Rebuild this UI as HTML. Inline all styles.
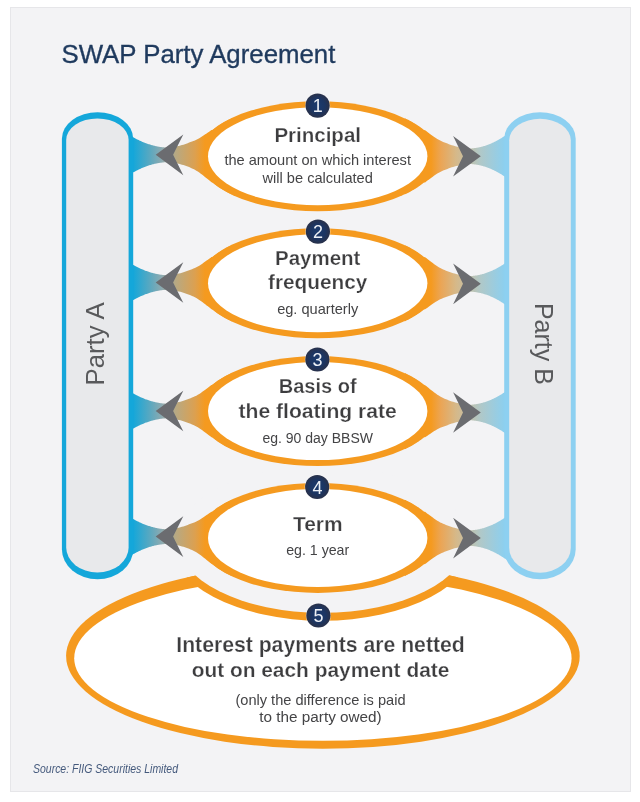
<!DOCTYPE html>
<html><head><meta charset="utf-8"><style>
html,body{margin:0;padding:0;background:#fff;width:640px;height:802px;overflow:hidden}
svg{display:block;font-family:"Liberation Sans",sans-serif;will-change:transform}
</style></head><body>
<svg width="640" height="802" viewBox="0 0 640 802">
<defs>
<linearGradient id="gL" gradientUnits="userSpaceOnUse" x1="133" y1="0" x2="205" y2="0">
<stop offset="0" stop-color="#14a7da"/><stop offset="0.236" stop-color="#5aa8c0"/><stop offset="0.403" stop-color="#8eaab0"/><stop offset="0.597" stop-color="#b8a982"/><stop offset="0.861" stop-color="#dca050"/><stop offset="1" stop-color="#f59a1f"/></linearGradient>
<linearGradient id="gR" gradientUnits="userSpaceOnUse" x1="431" y1="0" x2="504" y2="0">
<stop offset="0" stop-color="#f59a1f"/><stop offset="0.135" stop-color="#eba555"/><stop offset="0.338" stop-color="#d6b888"/><stop offset="0.676" stop-color="#b0c8c8"/><stop offset="1" stop-color="#8dcfee"/></linearGradient>
<radialGradient id="cg" cx="0.5" cy="0.5" r="0.5"><stop offset="0" stop-color="#1b3b6e"/><stop offset="0.6" stop-color="#1c3562"/><stop offset="1" stop-color="#29314a"/></radialGradient>
<clipPath id="c5"><ellipse cx="322.9" cy="656" rx="256.8" ry="92.7"/></clipPath>
</defs>
<rect x="10.5" y="7.5" width="620" height="784" fill="#f3f3f5" stroke="#e6e6e9" stroke-width="1"/>
<ellipse cx="322.9" cy="656" rx="256.8" ry="92.7" fill="#f59a1f"/>
<ellipse cx="322.9" cy="658.2" rx="248.7" ry="82.6" fill="#fff"/>
<g clip-path="url(#c5)"><ellipse cx="322.2" cy="539.5" rx="153.5" ry="81.3" fill="#f59a1f"/></g>
<ellipse cx="322.2" cy="539.5" rx="145.5" ry="73.3" fill="#f3f3f5"/>
<ellipse cx="317.7" cy="156.3" rx="120" ry="55" fill="#f59a1f"/>
<ellipse cx="317.7" cy="283.2" rx="120" ry="55" fill="#f59a1f"/>
<ellipse cx="317.7" cy="411.1" rx="120" ry="55" fill="#f59a1f"/>
<ellipse cx="317.7" cy="537.9" rx="120" ry="55" fill="#f59a1f"/>
<path d="M122.00,129.98 L122.44,130.29 L123.04,130.72 L123.75,131.23 L124.52,131.77 L125.29,132.31 L126.00,132.80 L126.67,133.25 L127.33,133.69 L128.00,134.12 L128.67,134.55 L129.33,134.97 L130.00,135.38 L130.67,135.78 L131.33,136.18 L132.00,136.57 L132.67,136.96 L133.33,137.34 L134.00,137.71 L134.67,138.07 L135.33,138.43 L136.00,138.78 L136.67,139.13 L137.33,139.47 L138.00,139.80 L138.67,140.12 L139.33,140.44 L140.00,140.75 L140.67,141.05 L141.33,141.35 L142.00,141.64 L142.67,141.92 L143.33,142.20 L144.00,142.47 L144.67,142.73 L145.33,142.98 L146.00,143.23 L146.67,143.47 L147.33,143.71 L148.00,143.94 L148.67,144.16 L149.33,144.37 L150.00,144.58 L150.67,144.78 L151.33,144.98 L152.00,145.16 L152.67,145.35 L153.33,145.52 L154.00,145.69 L154.67,145.85 L155.33,146.00 L156.00,146.15 L156.67,146.29 L157.33,146.42 L158.00,146.55 L158.67,146.66 L159.33,146.78 L160.00,146.88 L160.67,146.98 L161.33,147.07 L162.00,147.16 L162.67,147.24 L163.33,147.31 L164.00,147.37 L164.67,147.43 L165.33,147.48 L166.00,147.53 L166.59,147.59 L167.10,147.67 L167.60,147.75 L168.19,147.79 L168.96,147.76 L170.00,147.65 L171.38,147.43 L173.06,147.13 L174.91,146.76 L176.82,146.36 L178.69,145.93 L180.40,145.50 L181.95,145.07 L183.43,144.63 L184.86,144.16 L186.26,143.67 L187.67,143.15 L189.10,142.60 L190.55,142.06 L192.00,141.57 L193.44,141.04 L194.89,140.47 L196.34,139.83 L197.80,139.12 L199.28,138.30 L200.79,137.37 L202.31,136.37 L203.80,135.36 L205.24,134.37 L206.60,133.45 L207.90,132.58 L209.16,131.71 L210.37,130.87 L211.53,130.07 L212.60,130.05 L213.60,129.24 L214.47,128.56 L215.20,128.00 L215.86,127.51 L216.51,127.04 L217.20,126.54 L218.00,125.99 L218.88,125.39 L219.81,124.79 L220.78,124.17 L221.79,123.54 L222.87,122.90 L224.00,122.24 L225.31,121.50 L226.81,120.69 L228.38,119.87 L229.85,119.13 L231.11,118.52 L232.00,118.10 L232.00,194.50 L231.11,194.08 L229.85,193.47 L228.38,192.73 L226.81,191.91 L225.31,191.10 L224.00,190.36 L222.87,189.70 L221.79,189.06 L220.78,188.43 L219.81,187.81 L218.88,187.21 L218.00,186.61 L217.20,186.06 L216.51,185.56 L215.86,185.09 L215.20,184.60 L214.47,184.04 L213.60,183.36 L212.60,182.55 L211.53,182.23 L210.37,181.29 L209.16,180.30 L207.90,179.28 L206.60,178.25 L205.24,177.17 L203.80,176.01 L202.31,174.82 L200.79,173.64 L199.28,172.53 L197.80,171.52 L196.34,170.63 L194.89,169.82 L193.44,169.08 L192.00,168.38 L190.55,167.70 L189.10,167.10 L187.67,166.55 L186.26,166.03 L184.86,165.54 L183.43,165.07 L181.95,164.63 L180.40,164.20 L178.69,163.77 L176.82,163.34 L174.91,162.94 L173.06,162.57 L171.38,162.27 L170.00,162.05 L168.96,161.94 L168.19,161.91 L167.60,161.95 L167.10,162.03 L166.59,162.11 L166.00,162.17 L165.33,162.22 L164.67,162.27 L164.00,162.33 L163.33,162.39 L162.67,162.46 L162.00,162.54 L161.33,162.63 L160.67,162.72 L160.00,162.82 L159.33,162.92 L158.67,163.04 L158.00,163.15 L157.33,163.28 L156.67,163.41 L156.00,163.55 L155.33,163.70 L154.67,163.85 L154.00,164.01 L153.33,164.18 L152.67,164.35 L152.00,164.54 L151.33,164.72 L150.67,164.92 L150.00,165.12 L149.33,165.33 L148.67,165.54 L148.00,165.76 L147.33,165.99 L146.67,166.23 L146.00,166.47 L145.33,166.72 L144.67,166.97 L144.00,167.23 L143.33,167.50 L142.67,167.78 L142.00,168.06 L141.33,168.35 L140.67,168.65 L140.00,168.95 L139.33,169.26 L138.67,169.58 L138.00,169.90 L137.33,170.23 L136.67,170.57 L136.00,170.92 L135.33,171.27 L134.67,171.63 L134.00,171.99 L133.33,172.36 L132.67,172.74 L132.00,173.13 L131.33,173.52 L130.67,173.92 L130.00,174.32 L129.33,174.73 L128.67,175.15 L128.00,175.58 L127.33,176.01 L126.67,176.45 L126.00,176.90 L125.29,177.39 L124.52,177.93 L123.75,178.47 L123.04,178.98 L122.44,179.41 L122.00,179.72Z" fill="url(#gL)"/>
<path d="M514.60,128.19 L514.16,128.56 L513.56,129.07 L512.85,129.67 L512.08,130.31 L511.31,130.95 L510.60,131.52 L509.93,132.05 L509.27,132.57 L508.60,133.08 L507.93,133.58 L507.27,134.07 L506.60,134.55 L505.93,135.03 L505.27,135.50 L504.60,135.96 L503.93,136.41 L503.27,136.85 L502.60,137.29 L501.93,137.72 L501.27,138.13 L500.60,138.54 L499.93,138.95 L499.27,139.34 L498.60,139.73 L497.93,140.10 L497.27,140.47 L496.60,140.83 L495.93,141.18 L495.27,141.53 L494.60,141.86 L493.93,142.19 L493.27,142.51 L492.60,142.82 L491.93,143.12 L491.27,143.42 L490.60,143.71 L489.93,143.98 L489.27,144.25 L488.60,144.51 L487.93,144.77 L487.27,145.01 L486.60,145.25 L485.93,145.48 L485.27,145.70 L484.60,145.91 L483.93,146.11 L483.27,146.31 L482.60,146.49 L481.93,146.67 L481.27,146.84 L480.60,147.01 L479.93,147.16 L479.27,147.31 L478.60,147.44 L477.93,147.57 L477.27,147.69 L476.60,147.80 L475.93,147.91 L475.27,148.01 L474.60,148.10 L473.93,148.18 L473.27,148.26 L472.60,148.33 L471.93,148.39 L471.27,148.44 L470.60,148.49 L470.01,148.55 L469.50,148.64 L469.00,148.72 L468.41,148.76 L467.64,148.74 L466.60,148.62 L465.22,148.39 L463.54,148.07 L461.69,147.68 L459.78,147.28 L457.91,146.86 L456.20,146.44 L454.65,146.02 L453.17,145.59 L451.74,145.13 L450.34,144.65 L448.93,144.15 L447.50,143.61 L446.05,143.06 L444.60,142.50 L443.16,141.91 L441.71,141.29 L440.26,140.60 L438.80,139.83 L437.32,138.96 L435.81,137.98 L434.29,136.95 L432.80,135.91 L431.36,134.88 L430.00,133.88 L428.70,132.93 L427.44,131.99 L426.23,131.08 L425.07,130.21 L424.00,130.05 L423.00,129.24 L422.13,128.56 L421.40,128.00 L420.74,127.51 L420.09,127.04 L419.40,126.54 L418.60,125.99 L417.72,125.39 L416.79,124.79 L415.83,124.17 L414.81,123.54 L413.73,122.90 L412.60,122.24 L411.29,121.50 L409.79,120.69 L408.23,119.87 L406.75,119.13 L405.49,118.52 L404.60,118.10 L404.60,194.50 L405.49,194.08 L406.75,193.47 L408.23,192.73 L409.79,191.91 L411.29,191.10 L412.60,190.36 L413.73,189.70 L414.81,189.06 L415.83,188.43 L416.79,187.81 L417.72,187.21 L418.60,186.61 L419.40,186.06 L420.09,185.56 L420.74,185.09 L421.40,184.60 L422.13,184.04 L423.00,183.36 L424.00,182.55 L425.07,182.38 L426.23,181.50 L427.44,180.59 L428.70,179.64 L430.00,178.68 L431.36,177.68 L432.80,176.65 L434.29,175.60 L435.81,174.56 L437.32,173.58 L438.80,172.70 L440.26,171.93 L441.71,171.23 L443.16,170.60 L444.60,170.01 L446.05,169.44 L447.50,168.89 L448.93,168.35 L450.34,167.85 L451.74,167.37 L453.17,166.91 L454.65,166.48 L456.20,166.06 L457.91,165.64 L459.78,165.22 L461.69,164.82 L463.54,164.43 L465.22,164.11 L466.60,163.88 L467.64,163.76 L468.41,163.74 L469.00,163.78 L469.50,163.86 L470.01,163.95 L470.60,164.01 L471.27,164.06 L471.93,164.11 L472.60,164.17 L473.27,164.24 L473.93,164.32 L474.60,164.40 L475.27,164.49 L475.93,164.59 L476.60,164.70 L477.27,164.81 L477.93,164.93 L478.60,165.06 L479.27,165.19 L479.93,165.34 L480.60,165.49 L481.27,165.66 L481.93,165.83 L482.60,166.01 L483.27,166.19 L483.93,166.39 L484.60,166.59 L485.27,166.80 L485.93,167.02 L486.60,167.25 L487.27,167.49 L487.93,167.73 L488.60,167.99 L489.27,168.25 L489.93,168.52 L490.60,168.79 L491.27,169.08 L491.93,169.38 L492.60,169.68 L493.27,169.99 L493.93,170.31 L494.60,170.64 L495.27,170.97 L495.93,171.32 L496.60,171.67 L497.27,172.03 L497.93,172.40 L498.60,172.77 L499.27,173.16 L499.93,173.55 L500.60,173.96 L501.27,174.37 L501.93,174.78 L502.60,175.21 L503.27,175.65 L503.93,176.09 L504.60,176.54 L505.27,177.00 L505.93,177.47 L506.60,177.95 L507.27,178.43 L507.93,178.92 L508.60,179.42 L509.27,179.93 L509.93,180.45 L510.60,180.98 L511.31,181.55 L512.08,182.19 L512.85,182.83 L513.56,183.43 L514.16,183.94 L514.60,184.31Z" fill="url(#gR)"/>
<path d="M122.00,257.63 L122.44,257.94 L123.04,258.37 L123.75,258.88 L124.52,259.42 L125.29,259.96 L126.00,260.45 L126.67,260.90 L127.33,261.34 L128.00,261.77 L128.67,262.20 L129.33,262.62 L130.00,263.03 L130.67,263.43 L131.33,263.83 L132.00,264.22 L132.67,264.61 L133.33,264.99 L134.00,265.36 L134.67,265.72 L135.33,266.08 L136.00,266.43 L136.67,266.78 L137.33,267.12 L138.00,267.45 L138.67,267.77 L139.33,268.09 L140.00,268.40 L140.67,268.70 L141.33,269.00 L142.00,269.29 L142.67,269.57 L143.33,269.85 L144.00,270.12 L144.67,270.38 L145.33,270.63 L146.00,270.88 L146.67,271.12 L147.33,271.36 L148.00,271.59 L148.67,271.81 L149.33,272.02 L150.00,272.23 L150.67,272.43 L151.33,272.63 L152.00,272.81 L152.67,273.00 L153.33,273.17 L154.00,273.34 L154.67,273.50 L155.33,273.65 L156.00,273.80 L156.67,273.94 L157.33,274.07 L158.00,274.20 L158.67,274.31 L159.33,274.43 L160.00,274.53 L160.67,274.63 L161.33,274.72 L162.00,274.81 L162.67,274.89 L163.33,274.96 L164.00,275.02 L164.67,275.08 L165.33,275.13 L166.00,275.18 L166.59,275.24 L167.10,275.32 L167.60,275.40 L168.19,275.44 L168.96,275.41 L170.00,275.30 L171.38,275.08 L173.06,274.78 L174.91,274.41 L176.82,274.01 L178.69,273.58 L180.40,273.15 L181.95,272.72 L183.43,272.28 L184.86,271.81 L186.26,271.32 L187.67,270.80 L189.10,270.25 L190.55,269.69 L192.00,269.15 L193.44,268.58 L194.89,267.96 L196.34,267.29 L197.80,266.53 L199.28,265.66 L200.79,264.68 L202.31,263.64 L203.80,262.58 L205.24,261.55 L206.60,260.58 L207.90,259.67 L209.16,258.76 L210.37,257.88 L211.53,257.05 L212.60,256.95 L213.60,256.14 L214.47,255.46 L215.20,254.90 L215.86,254.41 L216.51,253.94 L217.20,253.44 L218.00,252.89 L218.88,252.29 L219.81,251.69 L220.78,251.07 L221.79,250.44 L222.87,249.80 L224.00,249.14 L225.31,248.40 L226.81,247.59 L228.38,246.77 L229.85,246.03 L231.11,245.42 L232.00,245.00 L232.00,321.40 L231.11,320.98 L229.85,320.37 L228.38,319.63 L226.81,318.81 L225.31,318.00 L224.00,317.26 L222.87,316.60 L221.79,315.96 L220.78,315.33 L219.81,314.71 L218.88,314.11 L218.00,313.51 L217.20,312.96 L216.51,312.46 L215.86,311.99 L215.20,311.50 L214.47,310.94 L213.60,310.26 L212.60,309.45 L211.53,309.21 L210.37,308.31 L209.16,307.36 L207.90,306.37 L206.60,305.38 L205.24,304.34 L203.80,303.23 L202.31,302.08 L200.79,300.95 L199.28,299.89 L197.80,298.93 L196.34,298.08 L194.89,297.32 L193.44,296.62 L192.00,295.96 L190.55,295.34 L189.10,294.75 L187.67,294.20 L186.26,293.68 L184.86,293.19 L183.43,292.72 L181.95,292.28 L180.40,291.85 L178.69,291.42 L176.82,290.99 L174.91,290.59 L173.06,290.22 L171.38,289.92 L170.00,289.70 L168.96,289.59 L168.19,289.56 L167.60,289.60 L167.10,289.68 L166.59,289.76 L166.00,289.82 L165.33,289.87 L164.67,289.92 L164.00,289.98 L163.33,290.04 L162.67,290.11 L162.00,290.19 L161.33,290.28 L160.67,290.37 L160.00,290.47 L159.33,290.57 L158.67,290.69 L158.00,290.80 L157.33,290.93 L156.67,291.06 L156.00,291.20 L155.33,291.35 L154.67,291.50 L154.00,291.66 L153.33,291.83 L152.67,292.00 L152.00,292.19 L151.33,292.37 L150.67,292.57 L150.00,292.77 L149.33,292.98 L148.67,293.19 L148.00,293.41 L147.33,293.64 L146.67,293.88 L146.00,294.12 L145.33,294.37 L144.67,294.62 L144.00,294.88 L143.33,295.15 L142.67,295.43 L142.00,295.71 L141.33,296.00 L140.67,296.30 L140.00,296.60 L139.33,296.91 L138.67,297.23 L138.00,297.55 L137.33,297.88 L136.67,298.22 L136.00,298.57 L135.33,298.92 L134.67,299.28 L134.00,299.64 L133.33,300.01 L132.67,300.39 L132.00,300.78 L131.33,301.17 L130.67,301.57 L130.00,301.97 L129.33,302.38 L128.67,302.80 L128.00,303.23 L127.33,303.66 L126.67,304.10 L126.00,304.55 L125.29,305.04 L124.52,305.58 L123.75,306.12 L123.04,306.63 L122.44,307.06 L122.00,307.37Z" fill="url(#gL)"/>
<path d="M514.60,255.79 L514.16,256.16 L513.56,256.67 L512.85,257.27 L512.08,257.91 L511.31,258.55 L510.60,259.12 L509.93,259.65 L509.27,260.17 L508.60,260.68 L507.93,261.18 L507.27,261.67 L506.60,262.15 L505.93,262.63 L505.27,263.10 L504.60,263.56 L503.93,264.01 L503.27,264.45 L502.60,264.89 L501.93,265.32 L501.27,265.73 L500.60,266.14 L499.93,266.55 L499.27,266.94 L498.60,267.33 L497.93,267.70 L497.27,268.07 L496.60,268.43 L495.93,268.78 L495.27,269.13 L494.60,269.46 L493.93,269.79 L493.27,270.11 L492.60,270.42 L491.93,270.72 L491.27,271.02 L490.60,271.31 L489.93,271.58 L489.27,271.85 L488.60,272.11 L487.93,272.37 L487.27,272.61 L486.60,272.85 L485.93,273.08 L485.27,273.30 L484.60,273.51 L483.93,273.71 L483.27,273.91 L482.60,274.09 L481.93,274.27 L481.27,274.44 L480.60,274.61 L479.93,274.76 L479.27,274.91 L478.60,275.04 L477.93,275.17 L477.27,275.29 L476.60,275.40 L475.93,275.51 L475.27,275.61 L474.60,275.70 L473.93,275.78 L473.27,275.86 L472.60,275.93 L471.93,275.99 L471.27,276.04 L470.60,276.09 L470.01,276.15 L469.50,276.24 L469.00,276.32 L468.41,276.36 L467.64,276.34 L466.60,276.22 L465.22,275.99 L463.54,275.67 L461.69,275.28 L459.78,274.88 L457.91,274.46 L456.20,274.04 L454.65,273.62 L453.17,273.19 L451.74,272.73 L450.34,272.25 L448.93,271.75 L447.50,271.21 L446.05,270.64 L444.60,270.04 L443.16,269.41 L441.71,268.74 L440.26,268.01 L438.80,267.21 L437.32,266.29 L435.81,265.27 L434.29,264.19 L432.80,263.10 L431.36,262.04 L430.00,261.00 L428.70,260.01 L427.44,259.03 L426.23,258.09 L425.07,257.19 L424.00,256.95 L423.00,256.14 L422.13,255.46 L421.40,254.90 L420.74,254.41 L420.09,253.94 L419.40,253.44 L418.60,252.89 L417.72,252.29 L416.79,251.69 L415.83,251.07 L414.81,250.44 L413.73,249.80 L412.60,249.14 L411.29,248.40 L409.79,247.59 L408.23,246.77 L406.75,246.03 L405.49,245.42 L404.60,245.00 L404.60,321.40 L405.49,320.98 L406.75,320.37 L408.23,319.63 L409.79,318.81 L411.29,318.00 L412.60,317.26 L413.73,316.60 L414.81,315.96 L415.83,315.33 L416.79,314.71 L417.72,314.11 L418.60,313.51 L419.40,312.96 L420.09,312.46 L420.74,311.99 L421.40,311.50 L422.13,310.94 L423.00,310.26 L424.00,309.45 L425.07,309.35 L426.23,308.51 L427.44,307.63 L428.70,306.72 L430.00,305.80 L431.36,304.84 L432.80,303.85 L434.29,302.84 L435.81,301.85 L437.32,300.91 L438.80,300.07 L440.26,299.34 L441.71,298.69 L443.16,298.10 L444.60,297.55 L446.05,297.03 L447.50,296.49 L448.93,295.95 L450.34,295.45 L451.74,294.97 L453.17,294.51 L454.65,294.08 L456.20,293.66 L457.91,293.24 L459.78,292.82 L461.69,292.42 L463.54,292.03 L465.22,291.71 L466.60,291.48 L467.64,291.36 L468.41,291.34 L469.00,291.38 L469.50,291.46 L470.01,291.55 L470.60,291.61 L471.27,291.66 L471.93,291.71 L472.60,291.77 L473.27,291.84 L473.93,291.92 L474.60,292.00 L475.27,292.09 L475.93,292.19 L476.60,292.30 L477.27,292.41 L477.93,292.53 L478.60,292.66 L479.27,292.79 L479.93,292.94 L480.60,293.09 L481.27,293.26 L481.93,293.43 L482.60,293.61 L483.27,293.79 L483.93,293.99 L484.60,294.19 L485.27,294.40 L485.93,294.62 L486.60,294.85 L487.27,295.09 L487.93,295.33 L488.60,295.59 L489.27,295.85 L489.93,296.12 L490.60,296.39 L491.27,296.68 L491.93,296.98 L492.60,297.28 L493.27,297.59 L493.93,297.91 L494.60,298.24 L495.27,298.57 L495.93,298.92 L496.60,299.27 L497.27,299.63 L497.93,300.00 L498.60,300.37 L499.27,300.76 L499.93,301.15 L500.60,301.56 L501.27,301.97 L501.93,302.38 L502.60,302.81 L503.27,303.25 L503.93,303.69 L504.60,304.14 L505.27,304.60 L505.93,305.07 L506.60,305.55 L507.27,306.03 L507.93,306.52 L508.60,307.02 L509.27,307.53 L509.93,308.05 L510.60,308.58 L511.31,309.15 L512.08,309.79 L512.85,310.43 L513.56,311.03 L514.16,311.54 L514.60,311.91Z" fill="url(#gR)"/>
<path d="M122.00,386.13 L122.44,386.44 L123.04,386.87 L123.75,387.38 L124.52,387.92 L125.29,388.46 L126.00,388.95 L126.67,389.40 L127.33,389.84 L128.00,390.27 L128.67,390.70 L129.33,391.12 L130.00,391.53 L130.67,391.93 L131.33,392.33 L132.00,392.72 L132.67,393.11 L133.33,393.49 L134.00,393.86 L134.67,394.22 L135.33,394.58 L136.00,394.93 L136.67,395.28 L137.33,395.62 L138.00,395.95 L138.67,396.27 L139.33,396.59 L140.00,396.90 L140.67,397.20 L141.33,397.50 L142.00,397.79 L142.67,398.07 L143.33,398.35 L144.00,398.62 L144.67,398.88 L145.33,399.13 L146.00,399.38 L146.67,399.62 L147.33,399.86 L148.00,400.09 L148.67,400.31 L149.33,400.52 L150.00,400.73 L150.67,400.93 L151.33,401.13 L152.00,401.31 L152.67,401.50 L153.33,401.67 L154.00,401.84 L154.67,402.00 L155.33,402.15 L156.00,402.30 L156.67,402.44 L157.33,402.57 L158.00,402.70 L158.67,402.81 L159.33,402.93 L160.00,403.03 L160.67,403.13 L161.33,403.22 L162.00,403.31 L162.67,403.39 L163.33,403.46 L164.00,403.52 L164.67,403.58 L165.33,403.63 L166.00,403.68 L166.59,403.74 L167.10,403.82 L167.60,403.90 L168.19,403.94 L168.96,403.91 L170.00,403.80 L171.38,403.58 L173.06,403.28 L174.91,402.91 L176.82,402.51 L178.69,402.08 L180.40,401.65 L181.95,401.22 L183.43,400.78 L184.86,400.31 L186.26,399.82 L187.67,399.30 L189.10,398.75 L190.55,398.18 L192.00,397.60 L193.44,397.00 L194.89,396.34 L196.34,395.63 L197.80,394.83 L199.28,393.92 L200.79,392.91 L202.31,391.83 L203.80,390.73 L205.24,389.66 L206.60,388.67 L207.90,387.72 L209.16,386.78 L210.37,385.87 L211.53,385.01 L212.60,384.85 L213.60,384.04 L214.47,383.36 L215.20,382.80 L215.86,382.31 L216.51,381.84 L217.20,381.34 L218.00,380.79 L218.88,380.19 L219.81,379.59 L220.78,378.97 L221.79,378.34 L222.87,377.70 L224.00,377.04 L225.31,376.30 L226.81,375.49 L228.38,374.67 L229.85,373.93 L231.11,373.32 L232.00,372.90 L232.00,449.30 L231.11,448.88 L229.85,448.27 L228.38,447.53 L226.81,446.71 L225.31,445.90 L224.00,445.16 L222.87,444.50 L221.79,443.86 L220.78,443.23 L219.81,442.61 L218.88,442.01 L218.00,441.41 L217.20,440.86 L216.51,440.36 L215.86,439.89 L215.20,439.40 L214.47,438.84 L213.60,438.16 L212.60,437.35 L211.53,437.17 L210.37,436.30 L209.16,435.38 L207.90,434.43 L206.60,433.47 L205.24,432.46 L203.80,431.38 L202.31,430.27 L200.79,429.18 L199.28,428.15 L197.80,427.23 L196.34,426.43 L194.89,425.70 L193.44,425.03 L192.00,424.41 L190.55,423.82 L189.10,423.25 L187.67,422.70 L186.26,422.18 L184.86,421.69 L183.43,421.22 L181.95,420.78 L180.40,420.35 L178.69,419.92 L176.82,419.49 L174.91,419.09 L173.06,418.72 L171.38,418.42 L170.00,418.20 L168.96,418.09 L168.19,418.06 L167.60,418.10 L167.10,418.18 L166.59,418.26 L166.00,418.32 L165.33,418.37 L164.67,418.42 L164.00,418.48 L163.33,418.54 L162.67,418.61 L162.00,418.69 L161.33,418.78 L160.67,418.87 L160.00,418.97 L159.33,419.07 L158.67,419.19 L158.00,419.30 L157.33,419.43 L156.67,419.56 L156.00,419.70 L155.33,419.85 L154.67,420.00 L154.00,420.16 L153.33,420.33 L152.67,420.50 L152.00,420.69 L151.33,420.87 L150.67,421.07 L150.00,421.27 L149.33,421.48 L148.67,421.69 L148.00,421.91 L147.33,422.14 L146.67,422.38 L146.00,422.62 L145.33,422.87 L144.67,423.12 L144.00,423.38 L143.33,423.65 L142.67,423.93 L142.00,424.21 L141.33,424.50 L140.67,424.80 L140.00,425.10 L139.33,425.41 L138.67,425.73 L138.00,426.05 L137.33,426.38 L136.67,426.72 L136.00,427.07 L135.33,427.42 L134.67,427.78 L134.00,428.14 L133.33,428.51 L132.67,428.89 L132.00,429.28 L131.33,429.67 L130.67,430.07 L130.00,430.47 L129.33,430.88 L128.67,431.30 L128.00,431.73 L127.33,432.16 L126.67,432.60 L126.00,433.05 L125.29,433.54 L124.52,434.08 L123.75,434.62 L123.04,435.13 L122.44,435.56 L122.00,435.87Z" fill="url(#gL)"/>
<path d="M514.60,384.44 L514.16,384.81 L513.56,385.32 L512.85,385.92 L512.08,386.56 L511.31,387.20 L510.60,387.77 L509.93,388.30 L509.27,388.82 L508.60,389.33 L507.93,389.83 L507.27,390.32 L506.60,390.80 L505.93,391.28 L505.27,391.75 L504.60,392.21 L503.93,392.66 L503.27,393.10 L502.60,393.54 L501.93,393.97 L501.27,394.38 L500.60,394.79 L499.93,395.20 L499.27,395.59 L498.60,395.98 L497.93,396.35 L497.27,396.72 L496.60,397.08 L495.93,397.43 L495.27,397.78 L494.60,398.11 L493.93,398.44 L493.27,398.76 L492.60,399.07 L491.93,399.37 L491.27,399.67 L490.60,399.96 L489.93,400.23 L489.27,400.50 L488.60,400.76 L487.93,401.02 L487.27,401.26 L486.60,401.50 L485.93,401.73 L485.27,401.95 L484.60,402.16 L483.93,402.36 L483.27,402.56 L482.60,402.74 L481.93,402.92 L481.27,403.09 L480.60,403.26 L479.93,403.41 L479.27,403.56 L478.60,403.69 L477.93,403.82 L477.27,403.94 L476.60,404.05 L475.93,404.16 L475.27,404.26 L474.60,404.35 L473.93,404.43 L473.27,404.51 L472.60,404.58 L471.93,404.64 L471.27,404.69 L470.60,404.74 L470.01,404.80 L469.50,404.89 L469.00,404.97 L468.41,405.01 L467.64,404.99 L466.60,404.87 L465.22,404.64 L463.54,404.32 L461.69,403.93 L459.78,403.53 L457.91,403.11 L456.20,402.69 L454.65,402.27 L453.17,401.84 L451.74,401.38 L450.34,400.90 L448.93,400.40 L447.50,399.86 L446.05,399.28 L444.60,398.63 L443.16,397.96 L441.71,397.24 L440.26,396.46 L438.80,395.61 L437.32,394.65 L435.81,393.58 L434.29,392.46 L432.80,391.32 L431.36,390.21 L430.00,389.13 L428.70,388.10 L427.44,387.09 L426.23,386.10 L425.07,385.16 L424.00,384.85 L423.00,384.04 L422.13,383.36 L421.40,382.80 L420.74,382.31 L420.09,381.84 L419.40,381.34 L418.60,380.79 L417.72,380.19 L416.79,379.59 L415.83,378.97 L414.81,378.34 L413.73,377.70 L412.60,377.04 L411.29,376.30 L409.79,375.49 L408.23,374.67 L406.75,373.93 L405.49,373.32 L404.60,372.90 L404.60,449.30 L405.49,448.88 L406.75,448.27 L408.23,447.53 L409.79,446.71 L411.29,445.90 L412.60,445.16 L413.73,444.50 L414.81,443.86 L415.83,443.23 L416.79,442.61 L417.72,442.01 L418.60,441.41 L419.40,440.86 L420.09,440.36 L420.74,439.89 L421.40,439.40 L422.13,438.84 L423.00,438.16 L424.00,437.35 L425.07,437.33 L426.23,436.52 L427.44,435.68 L428.70,434.81 L430.00,433.93 L431.36,433.01 L432.80,432.07 L434.29,431.11 L435.81,430.16 L437.32,429.27 L438.80,428.48 L440.26,427.80 L441.71,427.19 L443.16,426.64 L444.60,426.14 L446.05,425.66 L447.50,425.14 L448.93,424.60 L450.34,424.10 L451.74,423.62 L453.17,423.16 L454.65,422.73 L456.20,422.31 L457.91,421.89 L459.78,421.47 L461.69,421.07 L463.54,420.68 L465.22,420.36 L466.60,420.13 L467.64,420.01 L468.41,419.99 L469.00,420.03 L469.50,420.11 L470.01,420.20 L470.60,420.26 L471.27,420.31 L471.93,420.36 L472.60,420.42 L473.27,420.49 L473.93,420.57 L474.60,420.65 L475.27,420.74 L475.93,420.84 L476.60,420.95 L477.27,421.06 L477.93,421.18 L478.60,421.31 L479.27,421.44 L479.93,421.59 L480.60,421.74 L481.27,421.91 L481.93,422.08 L482.60,422.26 L483.27,422.44 L483.93,422.64 L484.60,422.84 L485.27,423.05 L485.93,423.27 L486.60,423.50 L487.27,423.74 L487.93,423.98 L488.60,424.24 L489.27,424.50 L489.93,424.77 L490.60,425.04 L491.27,425.33 L491.93,425.63 L492.60,425.93 L493.27,426.24 L493.93,426.56 L494.60,426.89 L495.27,427.22 L495.93,427.57 L496.60,427.92 L497.27,428.28 L497.93,428.65 L498.60,429.02 L499.27,429.41 L499.93,429.80 L500.60,430.21 L501.27,430.62 L501.93,431.03 L502.60,431.46 L503.27,431.90 L503.93,432.34 L504.60,432.79 L505.27,433.25 L505.93,433.72 L506.60,434.20 L507.27,434.68 L507.93,435.17 L508.60,435.67 L509.27,436.18 L509.93,436.70 L510.60,437.23 L511.31,437.80 L512.08,438.44 L512.85,439.08 L513.56,439.68 L514.16,440.19 L514.60,440.56Z" fill="url(#gR)"/>
<path d="M122.00,511.73 L122.44,512.04 L123.04,512.47 L123.75,512.98 L124.52,513.52 L125.29,514.06 L126.00,514.55 L126.67,515.00 L127.33,515.44 L128.00,515.87 L128.67,516.30 L129.33,516.72 L130.00,517.13 L130.67,517.53 L131.33,517.93 L132.00,518.32 L132.67,518.71 L133.33,519.09 L134.00,519.46 L134.67,519.82 L135.33,520.18 L136.00,520.53 L136.67,520.88 L137.33,521.22 L138.00,521.55 L138.67,521.87 L139.33,522.19 L140.00,522.50 L140.67,522.80 L141.33,523.10 L142.00,523.39 L142.67,523.67 L143.33,523.95 L144.00,524.22 L144.67,524.48 L145.33,524.73 L146.00,524.98 L146.67,525.22 L147.33,525.46 L148.00,525.69 L148.67,525.91 L149.33,526.12 L150.00,526.33 L150.67,526.53 L151.33,526.73 L152.00,526.91 L152.67,527.10 L153.33,527.27 L154.00,527.44 L154.67,527.60 L155.33,527.75 L156.00,527.90 L156.67,528.04 L157.33,528.17 L158.00,528.30 L158.67,528.41 L159.33,528.53 L160.00,528.63 L160.67,528.73 L161.33,528.82 L162.00,528.91 L162.67,528.99 L163.33,529.06 L164.00,529.12 L164.67,529.18 L165.33,529.23 L166.00,529.28 L166.59,529.34 L167.10,529.42 L167.60,529.50 L168.19,529.54 L168.96,529.51 L170.00,529.40 L171.38,529.18 L173.06,528.88 L174.91,528.51 L176.82,528.11 L178.69,527.68 L180.40,527.25 L181.95,526.82 L183.43,526.38 L184.86,525.91 L186.26,525.42 L187.67,524.90 L189.10,524.35 L190.55,523.81 L192.00,523.30 L193.44,522.77 L194.89,522.19 L196.34,521.54 L197.80,520.82 L199.28,519.99 L200.79,519.05 L202.31,518.04 L203.80,517.02 L205.24,516.03 L206.60,515.10 L207.90,514.22 L209.16,513.34 L210.37,512.49 L211.53,511.68 L212.60,511.65 L213.60,510.84 L214.47,510.16 L215.20,509.60 L215.86,509.11 L216.51,508.64 L217.20,508.14 L218.00,507.59 L218.88,506.99 L219.81,506.39 L220.78,505.77 L221.79,505.14 L222.87,504.50 L224.00,503.84 L225.31,503.10 L226.81,502.29 L228.38,501.47 L229.85,500.73 L231.11,500.12 L232.00,499.70 L232.00,576.10 L231.11,575.68 L229.85,575.07 L228.38,574.33 L226.81,573.51 L225.31,572.70 L224.00,571.96 L222.87,571.30 L221.79,570.66 L220.78,570.03 L219.81,569.41 L218.88,568.81 L218.00,568.21 L217.20,567.66 L216.51,567.16 L215.86,566.69 L215.20,566.20 L214.47,565.64 L213.60,564.96 L212.60,564.15 L211.53,563.85 L210.37,562.92 L209.16,561.93 L207.90,560.92 L206.60,559.90 L205.24,558.82 L203.80,557.67 L202.31,556.49 L200.79,555.32 L199.28,554.22 L197.80,553.22 L196.34,552.34 L194.89,551.54 L193.44,550.81 L192.00,550.11 L190.55,549.45 L189.10,548.85 L187.67,548.30 L186.26,547.78 L184.86,547.29 L183.43,546.82 L181.95,546.38 L180.40,545.95 L178.69,545.52 L176.82,545.09 L174.91,544.69 L173.06,544.32 L171.38,544.02 L170.00,543.80 L168.96,543.69 L168.19,543.66 L167.60,543.70 L167.10,543.78 L166.59,543.86 L166.00,543.92 L165.33,543.97 L164.67,544.02 L164.00,544.08 L163.33,544.14 L162.67,544.21 L162.00,544.29 L161.33,544.38 L160.67,544.47 L160.00,544.57 L159.33,544.67 L158.67,544.79 L158.00,544.90 L157.33,545.03 L156.67,545.16 L156.00,545.30 L155.33,545.45 L154.67,545.60 L154.00,545.76 L153.33,545.93 L152.67,546.10 L152.00,546.29 L151.33,546.47 L150.67,546.67 L150.00,546.87 L149.33,547.08 L148.67,547.29 L148.00,547.51 L147.33,547.74 L146.67,547.98 L146.00,548.22 L145.33,548.47 L144.67,548.72 L144.00,548.98 L143.33,549.25 L142.67,549.53 L142.00,549.81 L141.33,550.10 L140.67,550.40 L140.00,550.70 L139.33,551.01 L138.67,551.33 L138.00,551.65 L137.33,551.98 L136.67,552.32 L136.00,552.67 L135.33,553.02 L134.67,553.38 L134.00,553.74 L133.33,554.11 L132.67,554.49 L132.00,554.88 L131.33,555.27 L130.67,555.67 L130.00,556.07 L129.33,556.48 L128.67,556.90 L128.00,557.33 L127.33,557.76 L126.67,558.20 L126.00,558.65 L125.29,559.14 L124.52,559.68 L123.75,560.22 L123.04,560.73 L122.44,561.16 L122.00,561.47Z" fill="url(#gL)"/>
<path d="M514.60,510.04 L514.16,510.41 L513.56,510.92 L512.85,511.52 L512.08,512.16 L511.31,512.80 L510.60,513.37 L509.93,513.90 L509.27,514.42 L508.60,514.93 L507.93,515.43 L507.27,515.92 L506.60,516.40 L505.93,516.88 L505.27,517.35 L504.60,517.81 L503.93,518.26 L503.27,518.70 L502.60,519.14 L501.93,519.57 L501.27,519.98 L500.60,520.39 L499.93,520.80 L499.27,521.19 L498.60,521.58 L497.93,521.95 L497.27,522.32 L496.60,522.68 L495.93,523.03 L495.27,523.38 L494.60,523.71 L493.93,524.04 L493.27,524.36 L492.60,524.67 L491.93,524.97 L491.27,525.27 L490.60,525.56 L489.93,525.83 L489.27,526.10 L488.60,526.36 L487.93,526.62 L487.27,526.86 L486.60,527.10 L485.93,527.33 L485.27,527.55 L484.60,527.76 L483.93,527.96 L483.27,528.16 L482.60,528.34 L481.93,528.52 L481.27,528.69 L480.60,528.86 L479.93,529.01 L479.27,529.16 L478.60,529.29 L477.93,529.42 L477.27,529.54 L476.60,529.65 L475.93,529.76 L475.27,529.86 L474.60,529.95 L473.93,530.03 L473.27,530.11 L472.60,530.18 L471.93,530.24 L471.27,530.29 L470.60,530.34 L470.01,530.40 L469.50,530.49 L469.00,530.57 L468.41,530.61 L467.64,530.59 L466.60,530.47 L465.22,530.24 L463.54,529.92 L461.69,529.53 L459.78,529.13 L457.91,528.71 L456.20,528.29 L454.65,527.87 L453.17,527.44 L451.74,526.98 L450.34,526.50 L448.93,526.00 L447.50,525.46 L446.05,524.90 L444.60,524.33 L443.16,523.73 L441.71,523.08 L440.26,522.38 L438.80,521.60 L437.32,520.71 L435.81,519.72 L434.29,518.67 L432.80,517.61 L431.36,516.57 L430.00,515.56 L428.70,514.60 L427.44,513.64 L426.23,512.72 L425.07,511.84 L424.00,511.65 L423.00,510.84 L422.13,510.16 L421.40,509.60 L420.74,509.11 L420.09,508.64 L419.40,508.14 L418.60,507.59 L417.72,506.99 L416.79,506.39 L415.83,505.77 L414.81,505.14 L413.73,504.50 L412.60,503.84 L411.29,503.10 L409.79,502.29 L408.23,501.47 L406.75,500.73 L405.49,500.12 L404.60,499.70 L404.60,576.10 L405.49,575.68 L406.75,575.07 L408.23,574.33 L409.79,573.51 L411.29,572.70 L412.60,571.96 L413.73,571.30 L414.81,570.66 L415.83,570.03 L416.79,569.41 L417.72,568.81 L418.60,568.21 L419.40,567.66 L420.09,567.16 L420.74,566.69 L421.40,566.20 L422.13,565.64 L423.00,564.96 L424.00,564.15 L425.07,564.00 L426.23,563.14 L427.44,562.24 L428.70,561.30 L430.00,560.36 L431.36,559.37 L432.80,558.36 L434.29,557.32 L435.81,556.30 L437.32,555.33 L438.80,554.47 L440.26,553.71 L441.71,553.03 L443.16,552.41 L444.60,551.84 L446.05,551.29 L447.50,550.74 L448.93,550.20 L450.34,549.70 L451.74,549.22 L453.17,548.76 L454.65,548.33 L456.20,547.91 L457.91,547.49 L459.78,547.07 L461.69,546.67 L463.54,546.28 L465.22,545.96 L466.60,545.73 L467.64,545.61 L468.41,545.59 L469.00,545.63 L469.50,545.71 L470.01,545.80 L470.60,545.86 L471.27,545.91 L471.93,545.96 L472.60,546.02 L473.27,546.09 L473.93,546.17 L474.60,546.25 L475.27,546.34 L475.93,546.44 L476.60,546.55 L477.27,546.66 L477.93,546.78 L478.60,546.91 L479.27,547.04 L479.93,547.19 L480.60,547.34 L481.27,547.51 L481.93,547.68 L482.60,547.86 L483.27,548.04 L483.93,548.24 L484.60,548.44 L485.27,548.65 L485.93,548.87 L486.60,549.10 L487.27,549.34 L487.93,549.58 L488.60,549.84 L489.27,550.10 L489.93,550.37 L490.60,550.64 L491.27,550.93 L491.93,551.23 L492.60,551.53 L493.27,551.84 L493.93,552.16 L494.60,552.49 L495.27,552.82 L495.93,553.17 L496.60,553.52 L497.27,553.88 L497.93,554.25 L498.60,554.62 L499.27,555.01 L499.93,555.40 L500.60,555.81 L501.27,556.22 L501.93,556.63 L502.60,557.06 L503.27,557.50 L503.93,557.94 L504.60,558.39 L505.27,558.85 L505.93,559.32 L506.60,559.80 L507.27,560.28 L507.93,560.77 L508.60,561.27 L509.27,561.78 L509.93,562.30 L510.60,562.83 L511.31,563.40 L512.08,564.04 L512.85,564.68 L513.56,565.28 L514.16,565.79 L514.60,566.16Z" fill="url(#gR)"/>
<path d="M61.9,138.7 A35.64999999999999,26.5 0 0 1 133.2,138.7 L133.2,549.3 A35.64999999999999,30 0 0 1 61.9,549.3 Z" fill="#14a7da"/>
<path d="M66.2,139.9 A31.199999999999996,21.5 0 0 1 128.6,139.9 L128.6,547.5 A31.199999999999996,25 0 0 1 66.2,547.5 Z" fill="#e8e9eb"/>
<path d="M504.2,138.7 A35.75000000000003,26.5 0 0 1 575.7,138.7 L575.7,549.3 A35.75000000000003,30 0 0 1 504.2,549.3 Z" fill="#8dd0f1"/>
<path d="M509.2,140.3 A30.799999999999983,21.5 0 0 1 570.8,140.3 L570.8,547.7 A30.799999999999983,25 0 0 1 509.2,547.7 Z" fill="#e8e9eb"/>
<ellipse cx="317.7" cy="156.3" rx="109.7" ry="49" fill="#fff"/>
<ellipse cx="317.7" cy="283.2" rx="109.7" ry="49" fill="#fff"/>
<ellipse cx="317.7" cy="411.1" rx="109.7" ry="49" fill="#fff"/>
<ellipse cx="317.7" cy="537.9" rx="109.7" ry="49" fill="#fff"/>
<polygon points="155.70,154.85 183.30,134.55 173.10,154.85 183.30,175.15" fill="#6b6c70"/>
<polygon points="480.80,156.25 453.10,135.95 463.00,156.25 453.10,176.55" fill="#6b6c70"/>
<polygon points="155.70,282.50 183.30,262.20 173.10,282.50 183.30,302.80" fill="#6b6c70"/>
<polygon points="480.80,283.85 453.10,263.55 463.00,283.85 453.10,304.15" fill="#6b6c70"/>
<polygon points="155.70,411.00 183.30,390.70 173.10,411.00 183.30,431.30" fill="#6b6c70"/>
<polygon points="480.80,412.50 453.10,392.20 463.00,412.50 453.10,432.80" fill="#6b6c70"/>
<polygon points="155.70,536.60 183.30,516.30 173.10,536.60 183.30,556.90" fill="#6b6c70"/>
<polygon points="480.80,538.10 453.10,517.80 463.00,538.10 453.10,558.40" fill="#6b6c70"/>
<circle cx="317.6" cy="105.6" r="12.6" fill="#ffffff" fill-opacity="0.55"/>
<circle cx="317.6" cy="105.6" r="12.1" fill="url(#cg)"/>
<text x="317.8" y="112.19999999999999" font-size="18" fill="#eef1f6" text-anchor="middle">1</text>
<circle cx="317.9" cy="231.6" r="12.6" fill="#ffffff" fill-opacity="0.55"/>
<circle cx="317.9" cy="231.6" r="12.1" fill="url(#cg)"/>
<text x="318.09999999999997" y="238.2" font-size="18" fill="#eef1f6" text-anchor="middle">2</text>
<circle cx="317.4" cy="359.5" r="12.6" fill="#ffffff" fill-opacity="0.55"/>
<circle cx="317.4" cy="359.5" r="12.1" fill="url(#cg)"/>
<text x="317.59999999999997" y="366.1" font-size="18" fill="#eef1f6" text-anchor="middle">3</text>
<circle cx="317.2" cy="487" r="12.6" fill="#ffffff" fill-opacity="0.55"/>
<circle cx="317.2" cy="487" r="12.1" fill="url(#cg)"/>
<text x="317.4" y="493.6" font-size="18" fill="#eef1f6" text-anchor="middle">4</text>
<circle cx="318.4" cy="615.5" r="12.6" fill="#ffffff" fill-opacity="0.55"/>
<circle cx="318.4" cy="615.5" r="12.1" fill="url(#cg)"/>
<text x="318.59999999999997" y="622.1" font-size="18" fill="#eef1f6" text-anchor="middle">5</text>
<text x="61.5" y="62.5" font-size="25.8" font-weight="normal" fill="#1f3a5e" text-anchor="start" stroke="#1f3a5e" stroke-width="0.35">SWAP Party Agreement</text>
<text x="317.7" y="141.6" font-size="20.5" font-weight="bold" fill="#3d3d3f" text-anchor="middle" stroke="#ffffff" stroke-width="0.25">Principal</text>
<text x="317.7" y="165.3" font-size="14.6" font-weight="normal" fill="#444446" text-anchor="middle" >the amount on which interest</text>
<text x="317.7" y="182.5" font-size="14.6" font-weight="normal" fill="#444446" text-anchor="middle" >will be calculated</text>
<text x="317.7" y="264.5" font-size="20.5" font-weight="bold" fill="#3d3d3f" text-anchor="middle" stroke="#ffffff" stroke-width="0.25">Payment</text>
<text x="317.7" y="288.6" font-size="20.8" font-weight="bold" fill="#3d3d3f" text-anchor="middle" stroke="#ffffff" stroke-width="0.25">frequency</text>
<text x="317.7" y="314.4" font-size="14.6" font-weight="normal" fill="#444446" text-anchor="middle" >eg. quarterly</text>
<text x="317.7" y="393.1" font-size="20" font-weight="bold" fill="#3d3d3f" text-anchor="middle" stroke="#ffffff" stroke-width="0.25">Basis of</text>
<text x="317.7" y="417.9" font-size="21.1" font-weight="bold" fill="#3d3d3f" text-anchor="middle" stroke="#ffffff" stroke-width="0.25">the floating rate</text>
<text x="317.7" y="443.2" font-size="14" font-weight="normal" fill="#444446" text-anchor="middle" >eg. 90 day BBSW</text>
<text x="317.7" y="530.9" font-size="20.9" font-weight="bold" fill="#3d3d3f" text-anchor="middle" stroke="#ffffff" stroke-width="0.25">Term</text>
<text x="317.7" y="555.3" font-size="14.2" font-weight="normal" fill="#444446" text-anchor="middle" >eg. 1 year</text>
<text x="320.5" y="652.3" font-size="21.2" font-weight="bold" fill="#3d3d3f" text-anchor="middle" stroke="#ffffff" stroke-width="0.25">Interest payments are netted</text>
<text x="320.5" y="676.9" font-size="20.9" font-weight="bold" fill="#3d3d3f" text-anchor="middle" stroke="#ffffff" stroke-width="0.25">out on each payment date</text>
<text x="320.5" y="704.7" font-size="14.6" font-weight="normal" fill="#444446" text-anchor="middle" >(only the difference is paid</text>
<text x="320.5" y="722.4" font-size="15.3" font-weight="normal" fill="#444446" text-anchor="middle" >to the party owed)</text>
<text transform="translate(104.1,344) rotate(-90)" font-size="25.8" fill="#58595b" text-anchor="middle">Party A</text>
<text transform="translate(534.7,343.9) rotate(90)" font-size="25" fill="#58595b" text-anchor="middle">Party B</text>
<text x="33" y="773" font-size="12" font-style="italic" fill="#44597c" textLength="145" lengthAdjust="spacingAndGlyphs">Source: FIIG Securities Limited</text>
</svg>
</body></html>
